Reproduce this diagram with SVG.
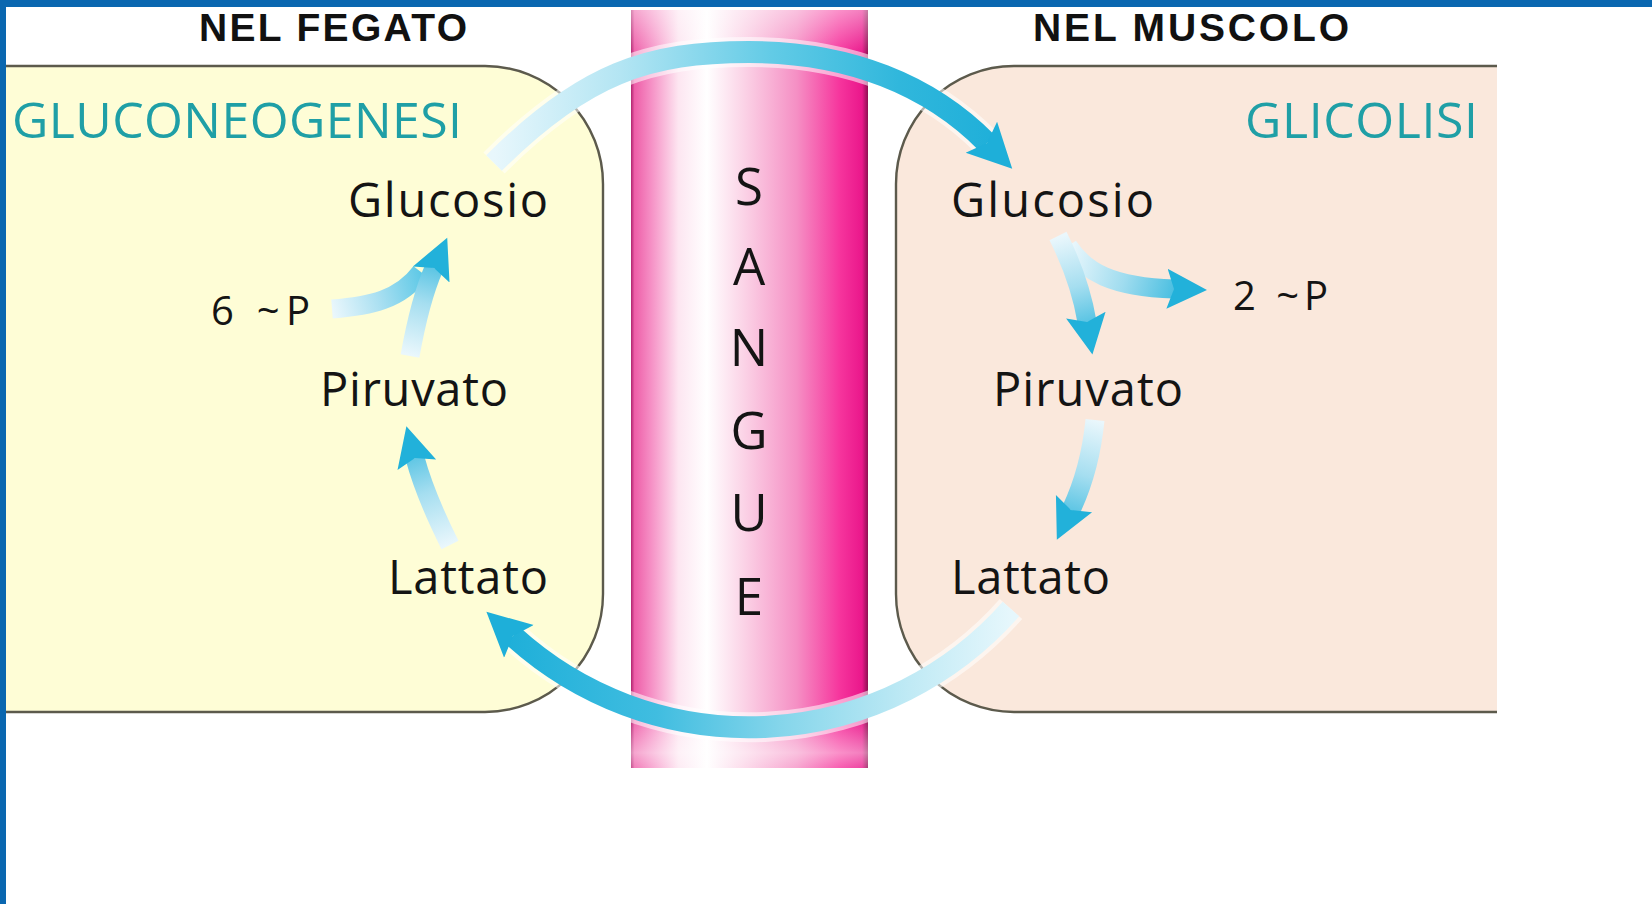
<svg xmlns="http://www.w3.org/2000/svg" width="1652" height="904" viewBox="0 0 1652 904">
  <style>
    .lbl { font-family: "Open Sans", "Noto Sans", "Liberation Sans", sans-serif; fill: #141414; }
    .title { font-family: "Liberation Sans", "Open Sans", sans-serif; font-weight: 700; font-size: 39px; fill: #111; }
    .proc { font-family: "Open Sans", "Noto Sans", "Liberation Sans", sans-serif; font-size: 50px; fill: #1F9FA6; }
    .mol { font-size: 47px; }
    .ph { font-size: 40px; }
    .sg { font-family: "Open Sans", "Noto Sans", "Liberation Sans", sans-serif; font-size: 51px; fill: #141414; text-anchor: middle; }
    .boxline { fill: none; stroke: #5c5a4c; stroke-width: 2.4; }
    .halo { fill: none; stroke: #ffffff; stroke-opacity: 0.55; stroke-linecap: butt; }
    .big { fill: none; stroke-width: 22; stroke-linecap: butt; marker-end: url(#head); }
    .small { fill: none; stroke-width: 19; stroke-linecap: butt; }
    .smallh { marker-end: url(#heads); }
  </style>
  <defs>
    <linearGradient id="blood" x1="0" y1="0" x2="1" y2="0">
      <stop offset="0" stop-color="#b0246f"/>
      <stop offset="0.015" stop-color="#ee5ea8"/>
      <stop offset="0.08" stop-color="#f58cc3"/>
      <stop offset="0.2" stop-color="#fde6f1"/>
      <stop offset="0.32" stop-color="#ffffff"/>
      <stop offset="0.48" stop-color="#fbd2e6"/>
      <stop offset="0.7" stop-color="#f58fc4"/>
      <stop offset="0.88" stop-color="#f6359d"/>
      <stop offset="0.975" stop-color="#ea178b"/>
      <stop offset="1" stop-color="#8e1052"/>
    </linearGradient>
    <linearGradient id="bloodV" x1="0" y1="0" x2="0" y2="1">
      <stop offset="0" stop-color="#ffffff" stop-opacity="0.45"/>
      <stop offset="0.06" stop-color="#ffffff" stop-opacity="0"/>
      <stop offset="0.93" stop-color="#ffffff" stop-opacity="0"/>
      <stop offset="0.98" stop-color="#ffffff" stop-opacity="0.45"/>
      <stop offset="1" stop-color="#ffffff" stop-opacity="0.2"/>
    </linearGradient>
    <linearGradient id="gTop" gradientUnits="userSpaceOnUse" x1="494" y1="0" x2="1000" y2="0">
      <stop offset="0" stop-color="#e8f7fc"/>
      <stop offset="0.25" stop-color="#b3e5f3"/>
      <stop offset="0.55" stop-color="#62cbe6"/>
      <stop offset="0.8" stop-color="#30b7dc"/>
      <stop offset="1" stop-color="#1eafd9"/>
    </linearGradient>
    <linearGradient id="gBot" gradientUnits="userSpaceOnUse" x1="1011" y1="0" x2="505" y2="0">
      <stop offset="0" stop-color="#e6f7fc"/>
      <stop offset="0.2" stop-color="#c0eaf5"/>
      <stop offset="0.45" stop-color="#86d6eb"/>
      <stop offset="0.7" stop-color="#40bde0"/>
      <stop offset="1" stop-color="#1eafd9"/>
    </linearGradient>
    <linearGradient id="gR1" gradientUnits="userSpaceOnUse" x1="1058" y1="237" x2="1090" y2="350">
      <stop offset="0" stop-color="#eaf7fc"/>
      <stop offset="0.45" stop-color="#a5def0"/>
      <stop offset="1" stop-color="#22b1da"/>
    </linearGradient>
    <linearGradient id="gR2" gradientUnits="userSpaceOnUse" x1="1070" y1="250" x2="1200" y2="289">
      <stop offset="0" stop-color="#eaf7fc"/>
      <stop offset="0.45" stop-color="#9fdcef"/>
      <stop offset="1" stop-color="#22b1da"/>
    </linearGradient>
    <linearGradient id="gR3" gradientUnits="userSpaceOnUse" x1="1095" y1="420" x2="1060" y2="540">
      <stop offset="0" stop-color="#eaf7fc"/>
      <stop offset="0.45" stop-color="#a5def0"/>
      <stop offset="1" stop-color="#22b1da"/>
    </linearGradient>
    <linearGradient id="gL1" gradientUnits="userSpaceOnUse" x1="450" y1="545" x2="408" y2="425">
      <stop offset="0" stop-color="#eaf7fc"/>
      <stop offset="0.45" stop-color="#a5def0"/>
      <stop offset="1" stop-color="#22b1da"/>
    </linearGradient>
    <linearGradient id="gL2" gradientUnits="userSpaceOnUse" x1="410" y1="355" x2="443" y2="240">
      <stop offset="0" stop-color="#eaf7fc"/>
      <stop offset="0.45" stop-color="#a5def0"/>
      <stop offset="1" stop-color="#22b1da"/>
    </linearGradient>
    <linearGradient id="gL2b" gradientUnits="userSpaceOnUse" x1="332" y1="309" x2="425" y2="280">
      <stop offset="0" stop-color="#eaf7fc"/>
      <stop offset="0.5" stop-color="#a8dff1"/>
      <stop offset="1" stop-color="#5cc8e6"/>
    </linearGradient>
    <marker id="head" markerUnits="userSpaceOnUse" viewBox="0 0 50 50" markerWidth="50" markerHeight="50" refX="8" refY="25" orient="auto">
      <path d="M0,3 L44,25 L0,47 L8,25 Z" fill="#1eafd9"/>
    </marker>
    <marker id="heads" markerUnits="userSpaceOnUse" viewBox="0 0 50 50" markerWidth="50" markerHeight="50" refX="7" refY="25" orient="auto">
      <path d="M0,5 L40,25 L0,45 L7,25 Z" fill="#22b1da"/>
    </marker>
  </defs>

  <rect x="0" y="0" width="1652" height="904" fill="#ffffff"/>

  <g id="fegato">
    <path d="M6,66 H485 A118,118 0 0 1 603,184 V594 A118,118 0 0 1 485,712 H6 Z" fill="#fefdd6"/>
    <path class="boxline" d="M6,66 H485 A118,118 0 0 1 603,184 V594 A118,118 0 0 1 485,712 H6"/>
  </g>

  <g id="muscolo">
    <path d="M1497,66 H1014 A118,118 0 0 0 896,184 V594 A118,118 0 0 0 1014,712 H1497 Z" fill="#fae8dc"/>
    <path class="boxline" d="M1497,66 H1014 A118,118 0 0 0 896,184 V594 A118,118 0 0 0 1014,712 H1497"/>
  </g>

  <g id="sangue">
    <rect x="631" y="10" width="237" height="758" fill="url(#blood)"/>
    <rect x="631" y="10" width="237" height="758" fill="url(#bloodV)"/>
    <text class="sg" x="749" y="205">S</text>
    <text class="sg" x="749" y="285">A</text>
    <text class="sg" x="749" y="366">N</text>
    <text class="sg" x="749" y="449">G</text>
    <text class="sg" x="749" y="531">U</text>
    <text class="sg" x="749" y="615">E</text>
  </g>

  <g id="connectors">
    <path class="halo" stroke-width="30" d="M494,163 C584,73 649,52 749,52 C849,52 930,85 987,143"/>
    <path class="big" stroke="url(#gTop)" d="M494,163 C584,73 649,52 749,52 C849,52 930,85 987,143"/>
    <path class="halo" stroke-width="30" d="M1011,609 A350,350 0 0 1 513,636"/>
    <path class="big" stroke="url(#gBot)" d="M1011,609 A350,350 0 0 1 513,636"/>

    <path class="small" stroke="url(#gL2b)" d="M332,309 C370,306 400,300 421,272"/>
    <path class="small smallh" stroke="url(#gL2)" d="M410,356 Q420,300 434,268"/>
    <path class="small smallh" stroke="url(#gL1)" d="M450,545 Q425,495 415,458"/>

    <path class="small smallh" stroke="url(#gR2)" d="M1068,246 C1085,272 1112,287 1174,289"/>
    <path class="small smallh" stroke="url(#gR1)" d="M1058,236 Q1080,280 1087,322"/>
    <path class="small smallh" stroke="url(#gR3)" d="M1095,420 Q1090,470 1071,510"/>
  </g>

  <g id="titolo-fegato"><text class="title" x="199" y="41" textLength="268">NEL FEGATO</text></g>
  <g id="titolo-muscolo"><text class="title" x="1033" y="41" textLength="316">NEL MUSCOLO</text></g>
  <g id="gluconeogenesi"><text class="proc" x="12" y="138" textLength="450">GLUCONEOGENESI</text></g>
  <g id="glicolisi"><text class="proc" x="1245" y="138" textLength="233">GLICOLISI</text></g>

  <g id="glucosio-fegato"><text class="lbl mol" x="348" y="217" textLength="200">Glucosio</text></g>
  <g id="p6-fegato"><text class="lbl ph" x="211" y="325" textLength="99">6 ~P</text></g>
  <g id="piruvato-fegato"><text class="lbl mol" x="320" y="406" textLength="188">Piruvato</text></g>
  <g id="lattato-fegato"><text class="lbl mol" x="388" y="594" textLength="160">Lattato</text></g>

  <g id="glucosio-muscolo"><text class="lbl mol" x="951" y="217" textLength="203">Glucosio</text></g>
  <g id="p2-muscolo"><text class="lbl ph" x="1233" y="310" textLength="95">2 ~P</text></g>
  <g id="piruvato-muscolo"><text class="lbl mol" x="993" y="406" textLength="190">Piruvato</text></g>
  <g id="lattato-muscolo"><text class="lbl mol" x="951" y="594" textLength="159">Lattato</text></g>

  <g id="cornice">
    <rect x="0" y="0" width="1652" height="7" fill="#0a67b0"/>
    <rect x="0" y="0" width="6" height="904" fill="#0a67b0"/>
  </g>
</svg>
